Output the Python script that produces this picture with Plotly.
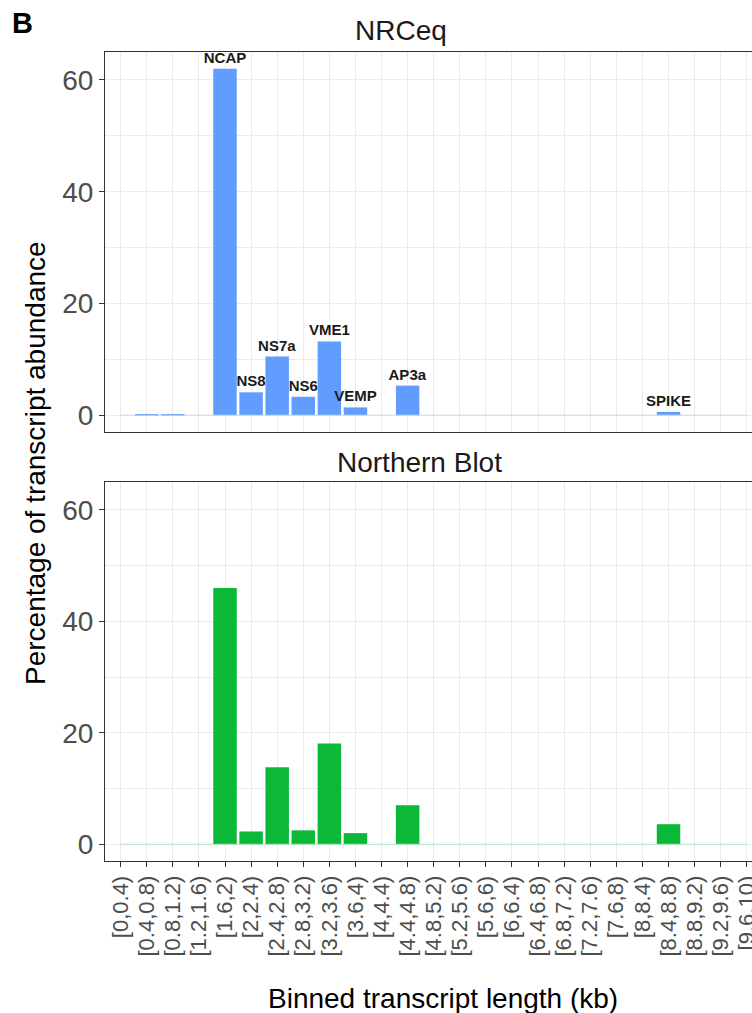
import plotly.graph_objects as go

# ---------------- data ----------------
bins = ["[0,0.4)", "[0.4,0.8)", "[0.8,1.2)", "[1.2,1.6)", "[1.6,2)", "[2,2.4)",
        "[2.4,2.8)", "[2.8,3.2)", "[3.2,3.6)", "[3.6,4)", "[4,4.4)", "[4.4,4.8)",
        "[4.8,5.2)", "[5.2,5.6)", "[5.6,6)", "[6,6.4)", "[6.4,6.8)", "[6.8,7.2)",
        "[7.2,7.6)", "[7.6,8)", "[8,8.4)", "[8.4,8.8)", "[8.8,9.2)", "[9.2,9.6)",
        "[9.6,10)"]

nrceq_values = [0, 0.15, 0.15, 0, 62.0, 4.1, 10.5, 3.3, 13.2, 1.4, 0, 5.3,
                0, 0, 0, 0, 0, 0, 0, 0, 0, 0.6, 0, 0, 0]
nrceq_labels = ["", "", "", "", "NCAP", "NS8", "NS7a", "NS6", "VME1", "VEMP", "", "AP3a",
                "", "", "", "", "", "", "", "", "", "SPIKE", "", "", ""]

northern_values = [0, 0, 0, 0, 46.0, 2.3, 13.8, 2.5, 18.1, 2.0, 0, 7.0,
                   0, 0, 0, 0, 0, 0, 0, 0, 0, 3.6, 0, 0, 0]

zeros = [0] * len(bins)

panel_titles = ["NRCeq", "Northern Blot"]
y_title = "Percentage of transcript abundance"
x_title = "Binned transcript length (kb)"

# ---------------- styling ----------------
W, H = 752, 1013
BLUE = "#619CFF"
GREEN = "#0BB838"
GRID = "#EBEBEB"
AXIS = "#333333"
TICKC = "#4D4D4D"
FONT = "Liberation Sans, Arial, Helvetica, sans-serif"

def py(px):  # pixel from top -> paper fraction
    return 1 - px / H

fig = go.Figure()

# faint zero lines (ggplot draws zero-height bars as hairlines)
fig.add_trace(go.Scatter(x=bins, y=zeros, mode="lines", xaxis="x2", yaxis="y2",
                         line=dict(color="#C9DBF7", width=1), hoverinfo="skip",
                         showlegend=False))
fig.add_trace(go.Scatter(x=bins, y=zeros, mode="lines", xaxis="x", yaxis="y",
                         line=dict(color="#B0E3BC", width=1), hoverinfo="skip",
                         showlegend=False))

fig.add_trace(go.Bar(x=bins, y=nrceq_values, xaxis="x2", yaxis="y2",
                     marker=dict(color=BLUE, line=dict(width=0)),
                     text=nrceq_labels, textposition="outside",
                     textfont=dict(family="Liberation Sans Narrow, " + FONT, size=15,
                                   color="#1A1A1A", weight="bold"),
                     constraintext="none", cliponaxis=False, showlegend=False))
fig.add_trace(go.Bar(x=bins, y=northern_values, xaxis="x", yaxis="y",
                     marker=dict(color=GREEN, line=dict(width=0)),
                     showlegend=False))

xr = [-0.6, 24.2]
yr = [-3.0, 65.0]
xdom = [105 / W, 1.0]

common_x = dict(type="category", range=xr, domain=xdom, showgrid=True, gridcolor=GRID,
                gridwidth=1, showline=True, linecolor=AXIS, linewidth=1, mirror=True,
                zeroline=False, automargin=False, fixedrange=True)
common_y = dict(range=yr, tickvals=[0, 20, 40, 60], showgrid=True, gridcolor=GRID,
                gridwidth=1, showline=True, linecolor=AXIS, linewidth=1, mirror=False,
                zeroline=False, ticks="outside", ticklen=5, tickcolor=AXIS,
                tickfont=dict(family=FONT, size=28, color=TICKC),
                minor=dict(tickvals=[10, 30, 50], showgrid=True, gridcolor=GRID,
                           gridwidth=1, ticks=""),
                automargin=False, fixedrange=True)

fig.update_layout(
    width=W, height=H,
    margin=dict(l=0, r=0, t=0, b=0),
    paper_bgcolor="white", plot_bgcolor="white",
    bargap=0.1,
    font=dict(family=FONT),
    xaxis=dict(**common_x, anchor="y", ticks="outside", ticklen=5, tickcolor=AXIS,
               tickangle=-90, tickfont=dict(family=FONT, size=22, color=TICKC)),
    yaxis=dict(**common_y, anchor="x", domain=[py(861), py(482)]),
    xaxis2=dict(**common_x, anchor="y2", matches="x", showticklabels=False, ticks=""),
    yaxis2=dict(**common_y, anchor="x2", domain=[py(432), py(52)]),
    annotations=[
        dict(text="<b>B</b>", x=22 / W, y=py(23), xref="paper", yref="paper",
             showarrow=False, font=dict(family=FONT, size=29, color="black"),
             xanchor="center", yanchor="middle"),
        dict(text=panel_titles[0], x=401 / W, y=py(31), xref="paper", yref="paper",
             showarrow=False, font=dict(family=FONT, size=28, color="#1A1A1A"),
             xanchor="center", yanchor="middle"),
        dict(text=panel_titles[1], x=420 / W, y=py(462), xref="paper", yref="paper",
             showarrow=False, font=dict(family=FONT, size=28, color="#1A1A1A"),
             xanchor="center", yanchor="middle"),
        dict(text=y_title, x=35 / W, y=py(463), xref="paper", yref="paper",
             showarrow=False, textangle=-90, font=dict(family=FONT, size=28, color="black"),
             xanchor="center", yanchor="middle"),
        dict(text=x_title, x=443 / W, y=py(998), xref="paper", yref="paper",
             showarrow=False, font=dict(family=FONT, size=28, color="black"),
             xanchor="center", yanchor="middle"),
    ],
)

fig.write_html("out.html", config={"displayModeBar": False},
               post_script="document.body.style.margin='0';document.body.style.overflow='hidden';")
